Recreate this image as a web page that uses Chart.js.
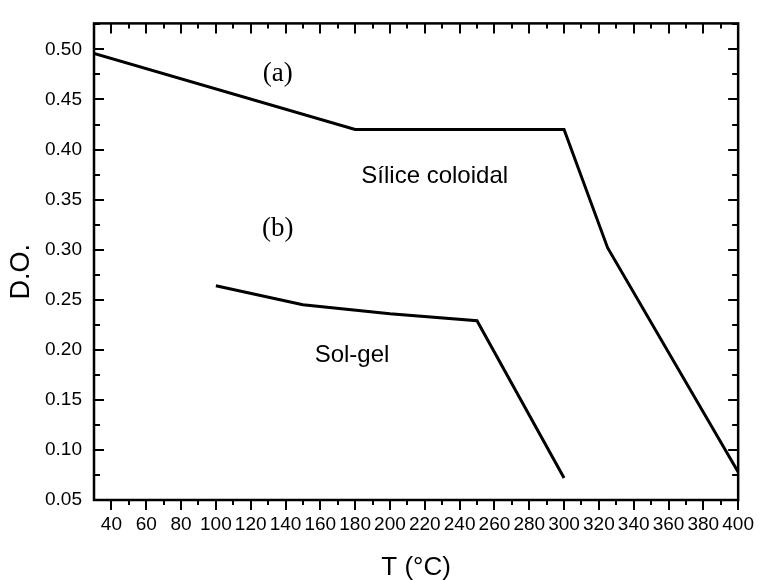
<!DOCTYPE html>
<html>
<head>
<meta charset="utf-8">
<script src="https://cdn.jsdelivr.net/npm/chart.js@4/dist/chart.umd.min.js"></script>
<style>
  html, body { margin: 0; padding: 0; background: #fff; }
  #wrap { width: 767px; height: 580px; }
</style>
</head>
<body>
<div id="wrap"><canvas id="c" width="767" height="580"></canvas></div>
<script>
// Temperature (°C) and optical density for the two coatings
const silicaT  = [30, 180, 300, 325, 400];
const silicaDO = [0.496, 0.420, 0.420, 0.302, 0.078];

const solgelT  = [100, 150, 200, 250, 300];
const solgelDO = [0.264, 0.245, 0.236, 0.229, 0.072];

// Axis tick labels
const xTicks = [40, 60, 80, 100, 120, 140, 160, 180, 200, 220, 240, 260, 280, 300, 320, 340, 360, 380, 400];
const yTicks = [0.05, 0.10, 0.15, 0.20, 0.25, 0.30, 0.35, 0.40, 0.45, 0.50];

// In-plot captions, anchored in data units (baseline of the text)
const notes = [
  { text: '(a)', x: 135.5, y: 0.468, serif: true },
  { text: '(b)', x: 135.5, y: 0.314, serif: true },
  { text: 'Sílice coloidal', x: 225.7, y: 0.367, serif: false },
  { text: 'Sol-gel', x: 178.2, y: 0.188, serif: false }
];

const toPoints = (xs, ys) => xs.map((x, i) => ({ x: x, y: ys[i] }));

// Frame, inward/outward tick marks, captions and the vertical axis title
const framePlugin = {
  id: 'frame',
  afterDatasetsDraw(chart) {
    const { ctx, chartArea: a, scales: { x, y } } = chart;
    ctx.save();
    ctx.strokeStyle = '#000';
    ctx.lineWidth = 2.5;
    ctx.lineCap = 'butt';
    ctx.strokeRect(a.left, a.top, a.right - a.left, a.bottom - a.top);

    ctx.lineWidth = 2;
    ctx.beginPath();
    // x ticks: outward on the bottom, inward on the top; minor every 10
    for (let v = 40; v <= 400; v += 10) {
      const px = Math.round(x.getPixelForValue(v));
      const len = v % 20 === 0 ? 10 : 5;
      ctx.moveTo(px, a.bottom); ctx.lineTo(px, a.bottom + len);
      ctx.moveTo(px, a.top); ctx.lineTo(px, a.top + len);
    }
    // y ticks: inward on both sides; minor every 0.025
    for (let k = 2; k <= 21; k++) {
      const py = Math.round(y.getPixelForValue(k * 0.025));
      if (py <= a.top || py >= a.bottom) continue;
      const len = k % 2 === 0 ? 10 : 6;
      ctx.moveTo(a.left, py); ctx.lineTo(a.left + len, py);
      ctx.moveTo(a.right, py); ctx.lineTo(a.right - len, py);
    }
    ctx.stroke();

    ctx.fillStyle = '#000';
    ctx.textAlign = 'center';
    ctx.textBaseline = 'alphabetic';
    notes.forEach(n => {
      ctx.font = n.serif ? '27px "Liberation Serif", "Times New Roman", serif'
                         : '24px "Liberation Sans", Arial, sans-serif';
      ctx.fillText(n.text, x.getPixelForValue(n.x), y.getPixelForValue(n.y));
    });

    // vertical axis title
    ctx.translate(22, (a.top + a.bottom) / 2 + 10);
    ctx.rotate(-Math.PI / 2);
    ctx.textBaseline = 'middle';
    ctx.font = '27px "Liberation Sans", Arial, sans-serif';
    ctx.fillText('D.O.', 0, 0);
    ctx.restore();
  }
};

const tickFont = { family: '"Liberation Sans", Arial, sans-serif', size: 19 };

new Chart(document.getElementById('c'), {
  type: 'line',
  data: {
    datasets: [
      {
        label: 'Sílice coloidal',
        data: toPoints(silicaT, silicaDO),
        borderColor: '#000',
        borderWidth: 3,
        pointRadius: 0,
        tension: 0,
        fill: false
      },
      {
        label: 'Sol-gel',
        data: toPoints(solgelT, solgelDO),
        borderColor: '#000',
        borderWidth: 3,
        pointRadius: 0,
        tension: 0,
        fill: false
      }
    ]
  },
  options: {
    responsive: false,
    animation: false,
    devicePixelRatio: 1,
    layout: { padding: { top: 15, right: 19, left: 0, bottom: 0 } },
    plugins: { legend: { display: false }, tooltip: { enabled: false } },
    scales: {
      x: {
        type: 'linear',
        min: 30,
        max: 400,
        afterBuildTicks: s => { s.ticks = xTicks.map(v => ({ value: v })); },
        afterFit: s => { s.height = 80; },
        grid: { display: false, drawTicks: false },
        border: { display: false },
        ticks: {
          color: '#000',
          font: tickFont,
          padding: 13,
          maxRotation: 0,
          autoSkip: false,
          callback: v => String(v)
        },
        title: {
          display: true,
          text: 'T (°C)',
          color: '#000',
          font: { family: '"Liberation Sans", Arial, sans-serif', size: 26 },
          padding: { top: 0, bottom: -3 }
        }
      },
      y: {
        type: 'linear',
        min: 0.05,
        max: 0.526,
        afterBuildTicks: s => { s.ticks = yTicks.map(v => ({ value: v })); },
        afterFit: s => { s.width = 94; },
        grid: { display: false, drawTicks: false },
        border: { display: false },
        ticks: {
          color: '#000',
          font: tickFont,
          padding: 12,
          autoSkip: false,
          callback: v => Number(v).toFixed(2)
        },
        title: { display: false }
      }
    }
  },
  plugins: [framePlugin]
});
</script>
</body>
</html>
